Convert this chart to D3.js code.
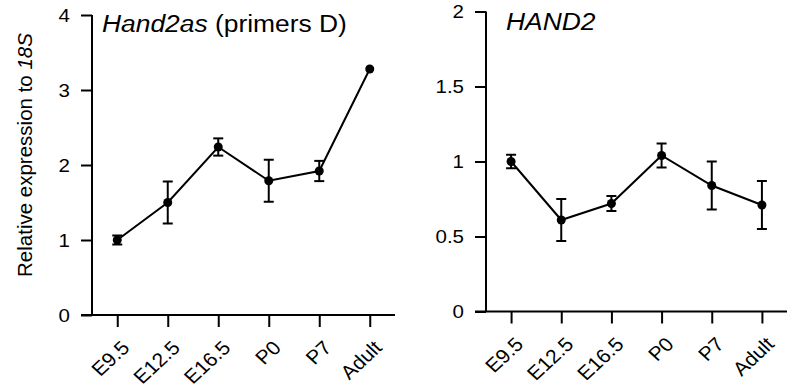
<!DOCTYPE html>
<html>
<head>
<meta charset="utf-8">
<script src="https://cdn.jsdelivr.net/npm/d3@7"></script>
<style>
  body { margin: 0; background: #fff; }
  svg { display: block; font-family: "Liberation Sans", Arial, sans-serif; }
</style>
</head>
<body>
<div id="chart"></div>
<script>
const categories = ["E9.5", "E12.5", "E16.5", "P0", "P7", "Adult"];

// Hand2as (primers D), relative to 18S
const hand2asMean = [1.0, 1.5, 2.24, 1.79, 1.92, 3.28];
const hand2asErr = [0.06, 0.28, 0.115, 0.28, 0.135, 0.0];
const hand2asTicks = [0, 1, 2, 3, 4];

// HAND2
const hand2Mean = [1.0, 0.61, 0.72, 1.04, 0.84, 0.71];
const hand2Err = [0.045, 0.14, 0.05, 0.08, 0.16, 0.16];
const hand2Ticks = [0, 0.5, 1, 1.5, 2];

const width = 794;
const height = 387;
const stretch = 1.08; // the figure's text is a bit wider than plain Arial

const svg = d3.select("#chart")
  .append("svg")
  .attr("width", width)
  .attr("height", height);

function panel(opts) {
  const { left, right, top, bottom, yMax, ticks, mean, err, title, italicTitle } = opts;

  const x = d3.scalePoint()
    .domain(categories)
    .range([left, right])
    .padding(0.5);

  const y = d3.scaleLinear()
    .domain([0, yMax])
    .range([bottom, top]);

  const g = svg.append("g");

  // y axis
  const yAxis = g.append("g")
    .attr("transform", `translate(${left},0)`)
    .call(d3.axisLeft(y).tickValues(ticks).tickSize(11).tickPadding(11).tickFormat(d3.format("")));
  yAxis.select(".domain").remove();
  yAxis.selectAll("line").attr("stroke", "#000").attr("stroke-width", 2);
  yAxis.selectAll("text")
    .attr("fill", "#000")
    .style("font-size", "19px")
    .attr("x", -22 / stretch)
    .attr("transform", `scale(${stretch},1)`);

  // x axis
  const xAxis = g.append("g")
    .attr("transform", `translate(0,${bottom})`)
    .call(d3.axisBottom(x).tickSize(12).tickPadding(0));
  xAxis.select(".domain").remove();
  xAxis.selectAll("line").attr("stroke", "#000").attr("stroke-width", 2);
  xAxis.selectAll("text")
    .attr("fill", "#000")
    .style("font-size", "19.5px")
    .attr("text-anchor", "end")
    .attr("dy", null)
    .attr("y", 0)
    .attr("transform", `translate(13,34) scale(${stretch},1) rotate(-45)`);

  // axis lines
  g.append("line")
    .attr("x1", left).attr("x2", left)
    .attr("y1", y(yMax)).attr("y2", y(0))
    .attr("stroke", "#000").attr("stroke-width", 2);
  g.append("line")
    .attr("x1", left - 11).attr("x2", right)
    .attr("y1", y(0)).attr("y2", y(0))
    .attr("stroke", "#000").attr("stroke-width", 2);

  const pts = categories.map((c, i) => ({ c, m: mean[i], e: err[i] }));

  // line
  g.append("path")
    .datum(pts)
    .attr("fill", "none")
    .attr("stroke", "#000")
    .attr("stroke-width", 2)
    .attr("d", d3.line().x(d => x(d.c)).y(d => y(d.m)));

  // error bars
  const eb = g.append("g")
    .selectAll("g")
    .data(pts.filter(d => d.e > 0))
    .join("g")
    .attr("stroke", "#000")
    .attr("stroke-width", 2);
  eb.append("line")
    .attr("x1", d => x(d.c)).attr("x2", d => x(d.c))
    .attr("y1", d => y(d.m - d.e)).attr("y2", d => y(d.m + d.e));
  eb.append("line")
    .attr("x1", d => x(d.c) - 5).attr("x2", d => x(d.c) + 5)
    .attr("y1", d => y(d.m + d.e)).attr("y2", d => y(d.m + d.e));
  eb.append("line")
    .attr("x1", d => x(d.c) - 5).attr("x2", d => x(d.c) + 5)
    .attr("y1", d => y(d.m - d.e)).attr("y2", d => y(d.m - d.e));

  // points
  g.append("g")
    .selectAll("circle")
    .data(pts)
    .join("circle")
    .attr("cx", d => x(d.c))
    .attr("cy", d => y(d.m))
    .attr("r", 4.5)
    .attr("fill", "#000");

  // title
  const t = g.append("text")
    .attr("transform", `translate(${opts.titleX},${opts.titleY}) scale(1.1,1)`)
    .attr("fill", "#000")
    .style("font-size", "24px");
  t.append("tspan").style("font-style", "italic").text(italicTitle);
  if (title) t.append("tspan").text(title);

  return { x, y };
}

panel({
  left: 92, right: 395, top: 15, bottom: 315, yMax: 4,
  ticks: hand2asTicks, mean: hand2asMean, err: hand2asErr,
  italicTitle: "Hand2as", title: " (primers D)", titleX: 102, titleY: 32
});

panel({
  left: 486, right: 787, top: 11.5, bottom: 311.5, yMax: 2,
  ticks: hand2Ticks, mean: hand2Mean, err: hand2Err,
  italicTitle: "HAND2", title: "", titleX: 506, titleY: 30
});

// y axis label
const yl = svg.append("text")
  .attr("transform", "translate(32,155) rotate(-90)")
  .attr("text-anchor", "middle")
  .attr("fill", "#000")
  .style("font-size", "20.5px");
yl.append("tspan").text("Relative expression to ");
yl.append("tspan").style("font-style", "italic").text("18S");
</script>
</body>
</html>
